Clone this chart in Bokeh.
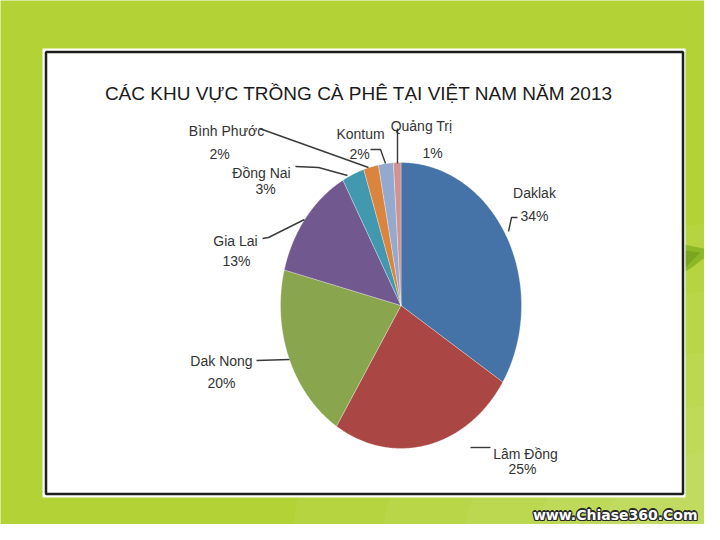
import numpy as np
from bokeh.plotting import figure
from bokeh.models import Range1d, ColumnDataSource
from bokeh.embed import file_html
from bokeh.resources import INLINE
from bokeh.core.properties import value

# ---------------- data ----------------
title_text = "CÁC KHU VỰC TRỒNG CÀ PHÊ TẠI VIỆT NAM NĂM 2013"
regions = ["Daklak", "Lâm Đồng", "Dak Nong", "Gia Lai", "Đồng Nai", "Bình Phước", "Kontum", "Quảng Trị"]
shares = [34, 25, 20, 13, 3, 2, 2, 1]
colors = ["#4572A7", "#AA4643", "#89A54E", "#71588F", "#4198AF", "#DB843D", "#93A9CF", "#D19392"]

# ---------------- layout (reference pixel coordinates) ----------------
CX, CY, RX, RY = 400.5, 305.0, 120.5, 143.0
# name label (x, baseline y), percent label (x, baseline y)
name_xy = [(534, 192), (525, 453), (221, 360), (235, 240), (261, 172), (226, 130), (360, 133), (421, 125)]
pct_xy = [(534, 215), (522, 468), (221, 382), (236, 260), (265, 188), (219, 153), (359, 153), (432, 152)]
leaders = [
    ([508, 511, 517], [231, 217, 217]),
    ([470, 490], [447, 447]),
    ([256, 289], [360, 359]),
    ([262, 268, 304], [238, 237, 219]),
    ([295, 318, 347], [166, 167, 175]),
    ([259, 368], [128, 167]),
    ([370, 380, 385], [149, 149, 163]),
    ([397, 397], [128, 163]),
]

GREEN = "#B3D236"

p = figure(width=704, height=524, x_range=Range1d(0, 704), y_range=Range1d(524, 0),
           output_backend="svg", toolbar_location=None,
           x_axis_location=None, y_axis_location=None, min_border=0,
           background_fill_color=GREEN, border_fill_color=GREEN)
p.grid.visible = False
p.outline_line_color = None

# soft lighter gradient toward the bottom right of the slide
for w, a in [(900, 0.10), (720, 0.10), (560, 0.10), (420, 0.10), (300, 0.10)]:
    p.ellipse(x=[740], y=[560], width=[w], height=[w * 0.75], fill_color="#DCEE9C",
              fill_alpha=a, line_color=None)

# leaf decoration at right edge
p.patch(x=[683, 714, 690, 683], y=[244, 250, 268, 272], fill_color="#8CB828", line_color=None)
p.patch(x=[683, 700, 686, 683], y=[250, 252, 266, 268], fill_color="#7AA51F", line_color=None)

# white panel with dark frame
p.quad(left=[42], right=[685], top=[48], bottom=[497], fill_color="white", line_color=None)
p.quad(left=[45.5], right=[682.5], top=[51.5], bottom=[493.5], fill_color="white",
       line_color="#1E1E1E", line_width=2.5)

# pie slices (ellipse, clockwise from 12 o'clock)
total = float(sum(shares))
xs, ys = [], []
acc = 0.0
for s in shares:
    a0 = 2 * np.pi * acc / total
    a1 = 2 * np.pi * (acc + s) / total
    t = np.linspace(a0, a1, max(8, int(s * 6)))
    xs.append([CX] + list(CX + RX * np.sin(t)))
    ys.append([CY] + list(CY - RY * np.cos(t)))
    acc += s
src = ColumnDataSource(dict(xs=xs, ys=ys, color=colors))
p.patches("xs", "ys", source=src, fill_color="color", line_color="white", line_width=0.6, line_alpha=0.5)

# leader lines
for lx, ly in leaders:
    p.line(lx, ly, line_color="#3A3A3A", line_width=1.4)

# labels
lab_font = value("Liberation Sans")
p.text(x=[xy[0] for xy in name_xy], y=[xy[1] for xy in name_xy], text=regions,
       text_font=lab_font, text_font_size="14px", text_color="#333333",
       text_align="center", text_baseline="alphabetic")
p.text(x=[xy[0] for xy in pct_xy], y=[xy[1] for xy in pct_xy], text=[f"{v}%" for v in shares],
       text_font=lab_font, text_font_size="14px", text_color="#333333",
       text_align="center", text_baseline="alphabetic")

# title
p.text(x=[358.5], y=[93], text=[title_text], text_font=value("Liberation Sans"),
       text_font_size="19px", text_color="#1A1A1A", text_align="center", text_baseline="alphabetic")

# watermark (moved up so it stays fully inside the canvas)
wm = "www.Chiase360.Com"
for dx, dy in [(-1.2, 0), (1.2, 0), (0, -1.2), (0, 1.2), (-1, -1), (1, 1), (-1, 1), (1, -1)]:
    p.text(x=[697 + dx], y=[514 + dy], text=[wm], text_font=value("DejaVu Sans"),
           text_font_size="14px", text_font_style="bold", text_color="#2A2A2A",
           text_align="right", text_baseline="alphabetic")
p.text(x=[697], y=[514], text=[wm], text_font=value("DejaVu Sans"),
       text_font_size="14px", text_font_style="bold", text_color="white",
       text_align="right", text_baseline="alphabetic")

open("out.html", "w").write(file_html(p, INLINE))
